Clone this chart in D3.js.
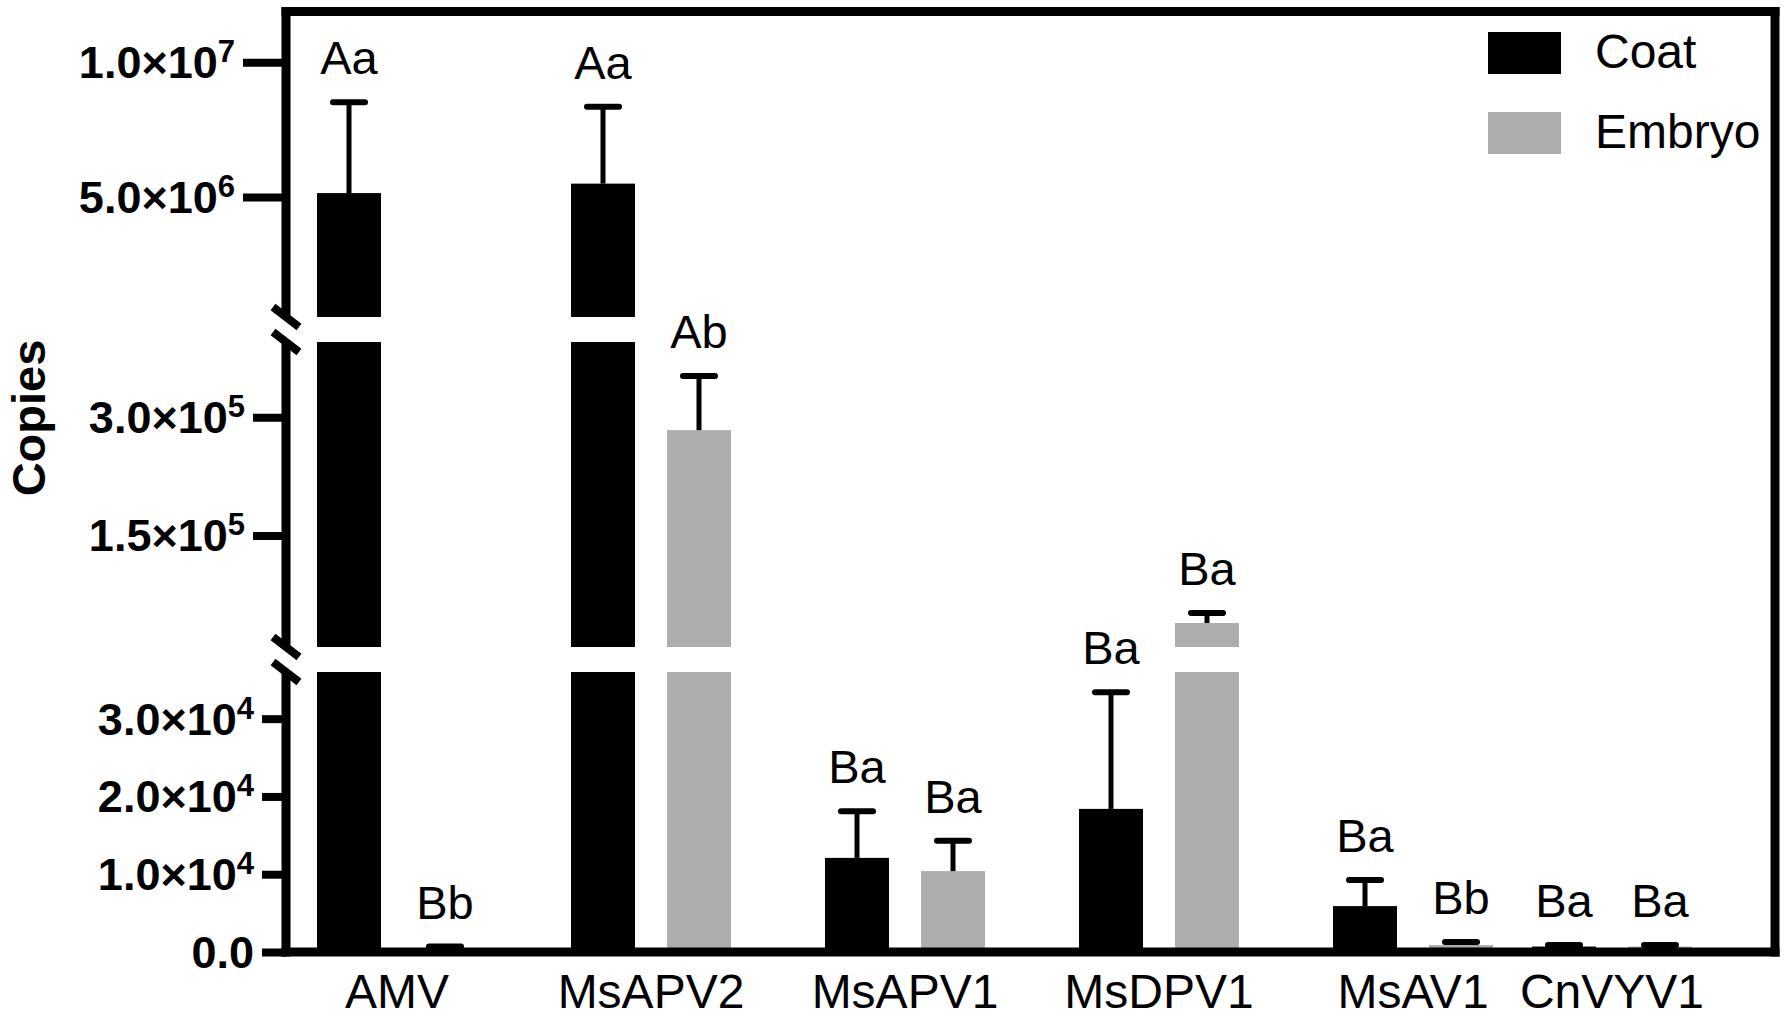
<!DOCTYPE html>
<html>
<head>
<meta charset="utf-8">
<script src="https://cdn.jsdelivr.net/npm/d3@7"></script>
<style>
  html, body { margin: 0; padding: 0; background: #fff; }
  svg { display: block; }
  text { font-family: "Liberation Sans", Arial, Helvetica, sans-serif; fill: #000; }
</style>
</head>
<body>
<svg id="chart" width="1786" height="1020"></svg>
<script>
// ---------------- data ----------------
const categories   = ["AMV", "MsAPV2", "MsAPV1", "MsDPV1", "MsAV1", "CnVYV1"];
const seriesNames  = ["Coat", "Embryo"];
const coatMean     = [5150000, 5500000, 12100, 18400, 5900, 700];
const coatErr      = [3370000, 2850000, 6000, 15000, 3350, 200];
const embryoMean   = [450, 278000, 10400, 89800, 900, 700];
const embryoErr    = [250, 104000, 3900, 5400, 400, 200];
const coatLetters  = ["Aa", "Aa", "Ba", "Ba", "Ba", "Ba"];
const embryoLetters= ["Bb", "Ab", "Ba", "Ba", "Bb", "Ba"];
const ticksTop     = [5000000, 10000000];
const ticksMid     = [150000, 300000];
const ticksLow     = [0, 10000, 20000, 30000];
const yTitle       = "Copies";

// ---------------- layout ----------------
const svg = d3.select("#chart");
const colors = { Coat: "#000000", Embryo: "#adadaf" };
const axisX = 286, rightX = 1775, topY = 11.5, baseY = 952;
const LW = 9;

// group centres (piecewise linear over group index – last group is set closer)
const xGroup = d3.scaleLinear().domain([0, 4, 5]).range([397, 1413, 1612]);
const xSub = d3.scaleBand().domain(seriesNames).range([-80, 80]).paddingInner(1 / 3).paddingOuter(0);

// broken y axis: three segments
const segments = [
  { scale: d3.scaleLinear().domain([556000, 11900000]).range([317, 11]), ticks: ticksTop, tickStart: 243 },
  { scale: d3.scaleLog().domain([78000, 466000]).range([647, 342]), ticks: ticksMid, tickStart: 253 },
  { scale: d3.scaleLinear().domain([0, 36000]).range([baseY, 672]), ticks: ticksLow, tickStart: 262 }
];

const rows = [];
categories.forEach((c, i) => {
  rows.push({ cat: c, i, s: "Coat", v: coatMean[i], e: coatErr[i], l: coatLetters[i] });
  rows.push({ cat: c, i, s: "Embryo", v: embryoMean[i], e: embryoErr[i], l: embryoLetters[i] });
});
const barX = d => xGroup(d.i) + xSub(d.s);
const bw = xSub.bandwidth();

// ---------------- bars ----------------
const gBars = svg.append("g");
segments.forEach(seg => {
  const [dmin, dmax] = seg.scale.domain();
  rows.forEach(d => {
    if (d.v <= dmin) return;
    const hi = Math.min(d.v, dmax);
    const y1 = seg.scale(hi), y0 = seg.scale(dmin);
    gBars.append("rect")
      .attr("x", barX(d)).attr("width", bw)
      .attr("y", y1).attr("height", y0 - y1)
      .attr("fill", colors[d.s]);
  });
});

// ---------------- error bars + letters ----------------
const gErr = svg.append("g").attr("stroke", "#000");
rows.forEach(d => {
  const cx = barX(d) + bw / 2;
  const top = d.v + d.e;
  segments.forEach(seg => {
    const [dmin, dmax] = seg.scale.domain();
    const a = Math.max(d.v, dmin), b = Math.min(top, dmax);
    if (b > a) {
      gErr.append("line").attr("x1", cx).attr("x2", cx)
        .attr("y1", seg.scale(a)).attr("y2", seg.scale(b)).attr("stroke-width", 5);
    }
    if (top <= dmax && (top > dmin || (dmin === 0 && top >= 0))) {
      const yc = seg.scale(top);
      gErr.append("line").attr("x1", cx - 16).attr("x2", cx + 16)
        .attr("y1", yc).attr("y2", yc).attr("stroke-width", 6).attr("stroke-linecap", "round");
      svg.append("text").attr("x", cx).attr("y", yc - 28)
        .attr("text-anchor", "middle").attr("font-size", 47).text(d.l);
    }
  });
});

// ---------------- axes / frame ----------------
const gAxis = svg.append("g").attr("stroke", "#000").attr("stroke-width", LW).attr("fill", "none");
gAxis.append("line").attr("x1", axisX - LW / 2).attr("x2", rightX + LW / 2).attr("y1", topY).attr("y2", topY);
gAxis.append("line").attr("x1", rightX).attr("x2", rightX).attr("y1", topY - LW / 2).attr("y2", baseY + LW / 2);
gAxis.append("line").attr("x1", axisX - LW / 2).attr("x2", rightX + LW / 2).attr("y1", baseY).attr("y2", baseY);

segments.forEach((seg, k) => {
  const r = seg.scale.range();
  const yTop = k === 0 ? topY - LW / 2 : r[1];
  const yBot = k === segments.length - 1 ? baseY + LW / 2 : r[0];
  gAxis.append("line").attr("x1", axisX).attr("x2", axisX).attr("y1", yTop).attr("y2", yBot);

  const ax = d3.axisLeft(seg.scale).tickValues(seg.ticks).tickSize(axisX - seg.tickStart).tickFormat("");
  const g = svg.append("g").attr("transform", `translate(${axisX},0)`).call(ax);
  g.select(".domain").remove();
  g.selectAll(".tick line").attr("stroke", "#000").attr("stroke-width", 8);

  seg.ticks.forEach(v => {
    const t = svg.append("text").attr("x", seg.tickStart - 8).attr("y", seg.scale(v) + 16)
      .attr("text-anchor", "end").attr("font-size", 45).attr("font-weight", "bold");
    if (v === 0) { t.text("0.0"); return; }
    const e = Math.floor(Math.log10(v));
    const m = (v / Math.pow(10, e)).toFixed(1);
    t.append("tspan").text(m + "×10");
    t.append("tspan").attr("font-size", 31).attr("dy", -16).text(e);
  });
});

// break marks
const breakYs = [];
segments.forEach((seg, k) => {
  const r = seg.scale.range();
  if (k > 0) breakYs.push(r[1]);
  if (k < segments.length - 1) breakYs.push(r[0]);
});
breakYs.forEach(y => {
  gAxis.append("line").attr("x1", axisX - 13).attr("x2", axisX + 13)
    .attr("y1", y - 10).attr("y2", y + 10).attr("stroke-width", 8);
});

// category labels
categories.forEach((c, i) => {
  svg.append("text").attr("x", xGroup(i)).attr("y", 1008)
    .attr("text-anchor", "middle").attr("font-size", 48).text(c);
});

// y title
svg.append("text").attr("transform", "translate(45,418) rotate(-90)")
  .attr("text-anchor", "middle").attr("font-size", 47).attr("font-weight", "bold").text(yTitle);

// legend
const legY = [32, 112];
seriesNames.forEach((s, k) => {
  svg.append("rect").attr("x", 1488).attr("y", legY[k]).attr("width", 73).attr("height", 42).attr("fill", colors[s]);
  svg.append("text").attr("x", 1595).attr("y", legY[k] + 36).attr("font-size", 48).text(s);
});
</script>
</body>
</html>
